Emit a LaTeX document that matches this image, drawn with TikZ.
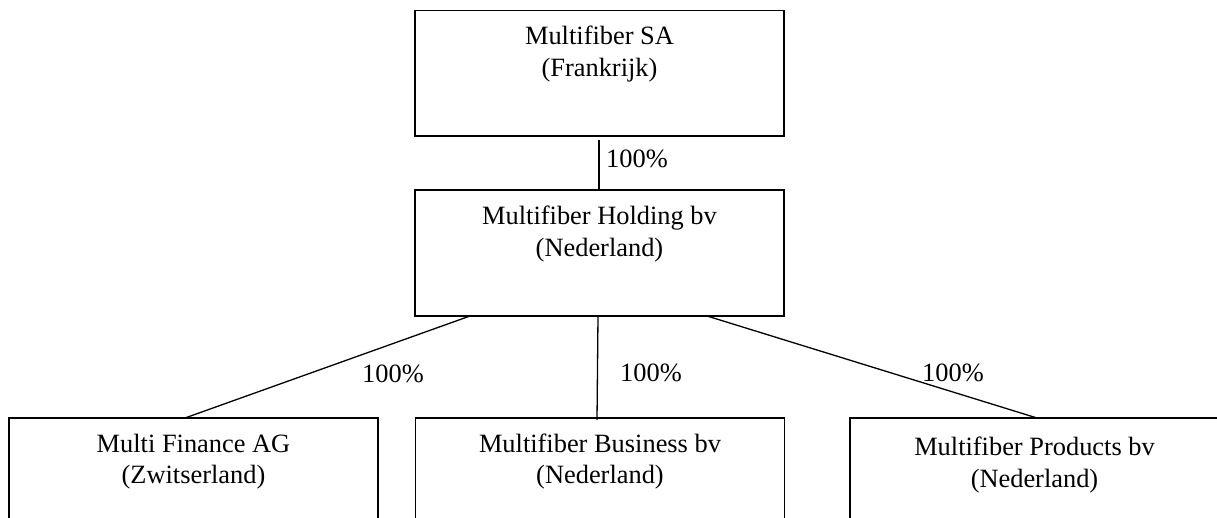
\documentclass[tikz,border=0pt]{standalone}
\usepackage{fontspec}
\setmainfont{Liberation Serif}
\begin{document}
\begin{tikzpicture}[x=1pt,y=-1pt,
  box/.style={draw=black,line width=1.3pt,minimum width=369pt,inner sep=0pt,outer sep=0pt},
  txt/.style={align=center,anchor=base,inner sep=0pt,font=\fontsize{26.4}{31.5}\selectfont},
  pct/.style={anchor=base west,inner sep=0pt,font=\fontsize{26.4}{31.5}\selectfont},
  conn/.style={draw=black,line width=1.3pt}]
\useasboundingbox (0,0) rectangle (1217,518);
\clip (0,0) rectangle (1217,518);
\fill[white] (0,0) rectangle (1217,518);
% boxes
\node[box,minimum height=125.3pt] (sa) at (599.5,73.3) {};
\node[box,minimum height=126pt] (hold) at (599.5,253) {};
\node[box,minimum height=126pt] (fin) at (193.5,481) {};
\node[box,minimum height=126pt] (bus) at (600,481) {};
\node[box,minimum height=126pt] (prod) at (1034.5,481) {};
% texts
\node[txt] (tsa1) at (599.5,45) {Multifiber SA};
\node[txt] (tsa2) at (599.5,77) {(Frankrijk)};
\node[txt] (th1) at (599.5,225) {Multifiber Holding bv};
\node[txt] (th2) at (599.5,257) {(Nederland)};
\node[txt] (tf1) at (193.5,452) {Multi Finance AG};
\node[txt] (tf2) at (193.5,483) {(Zwitserland)};
\node[txt] (tb1) at (600,452) {Multifiber Business bv};
\node[txt] (tb2) at (600,483) {(Nederland)};
\node[txt] (tp1) at (1034.5,455) {Multifiber Products bv};
\node[txt] (tp2) at (1034.5,487) {(Nederland)};
% connectors
\draw[conn] ([xshift=-0.5pt,yshift=-4pt]sa.south) -- ([xshift=-0.5pt]hold.north);
\draw[conn] ([xshift=55pt]hold.south west) -- ([xshift=-8.5pt]fin.north);
\draw[conn] ([xshift=-1.5pt]hold.south) -- ([xshift=-3pt,yshift=-2pt]bus.north);
\draw[conn] ([xshift=-77pt]hold.south east) -- ([xshift=2.5pt]prod.north);
% labels
\node[pct] (l0) at (606,168) {100\%};
\node[pct] (l1) at (362,382) {100\%};
\node[pct] (l2) at (620,381) {100\%};
\node[pct] (l3) at (922,381) {100\%};
\end{tikzpicture}
\end{document}
